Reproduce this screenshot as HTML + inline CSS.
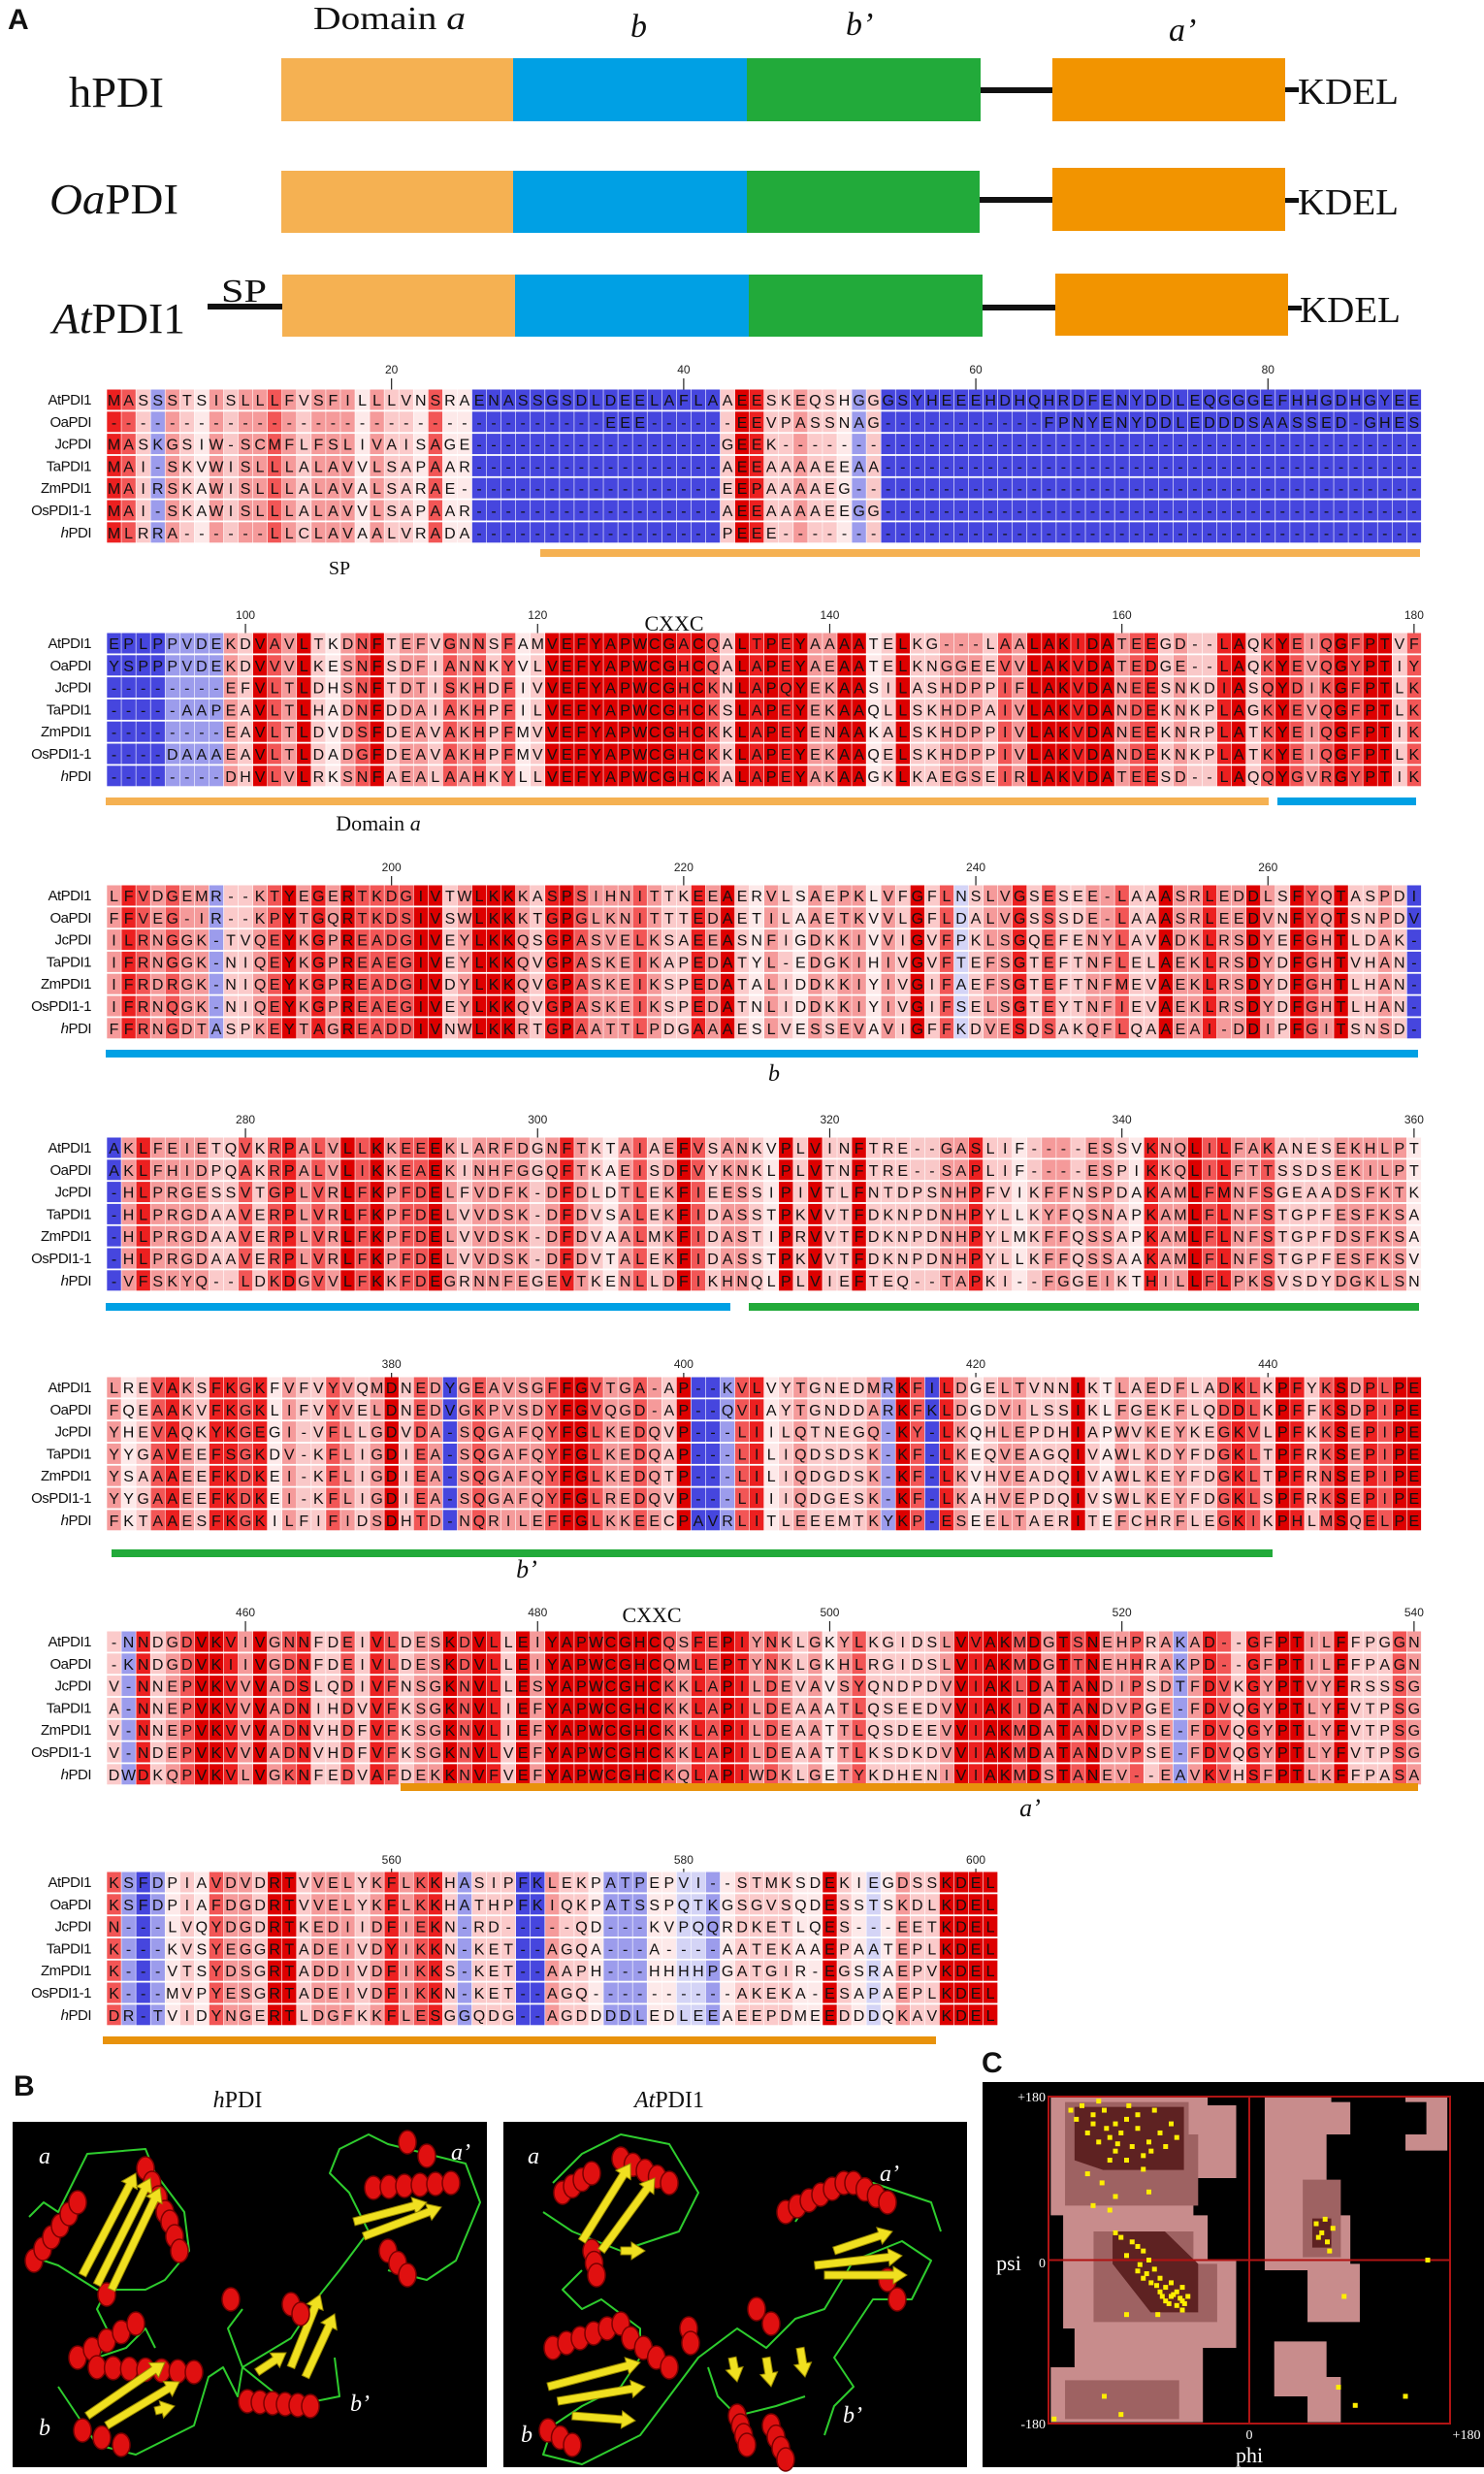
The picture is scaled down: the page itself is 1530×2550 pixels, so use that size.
<!DOCTYPE html>
<html><head><meta charset="utf-8"><style>
html,body{margin:0;padding:0;background:#fff;}
svg{display:block;}
</style></head><body>
<svg id="fig" xmlns="http://www.w3.org/2000/svg" width="1530" height="2550" viewBox="0 0 1530 2550">
<rect width="1530" height="2550" fill="#fff"/>
<g id="panelA" font-family="Liberation Serif, serif" fill="#111">
  <text x="8" y="30" font-family="Liberation Sans, sans-serif" font-weight="bold" font-size="30">A</text>
  <text x="323" y="30" font-size="34" textLength="157" lengthAdjust="spacingAndGlyphs">Domain <tspan font-style="italic">a</tspan></text>
  <text x="650" y="38" font-size="34" font-style="italic">b</text>
  <text x="872" y="36" font-size="34" font-style="italic">b’</text>
  <text x="1205" y="42" font-size="34" font-style="italic">a’</text>
  <text x="71" y="110" font-size="44" textLength="98" lengthAdjust="spacingAndGlyphs">hPDI</text>
  <g>
    <rect x="290" y="60" width="239" height="65" fill="#f5b152"/>
    <rect x="529" y="60" width="241" height="65" fill="#00a0e4"/>
    <rect x="770" y="60" width="241" height="65" fill="#22aa3a"/>
    <rect x="1011" y="90" width="74" height="6" fill="#111"/>
    <rect x="1085" y="60" width="240" height="65" fill="#f29400"/>
    <rect x="1325" y="90" width="14" height="5" fill="#111"/>
  </g>
  <text x="1338" y="107" font-size="38" textLength="104" lengthAdjust="spacingAndGlyphs">KDEL</text>
  <text x="51" y="220" font-size="44" textLength="133" lengthAdjust="spacingAndGlyphs"><tspan font-style="italic">Oa</tspan>PDI</text>
  <g>
    <rect x="290" y="176" width="239" height="64" fill="#f5b152"/>
    <rect x="529" y="176" width="241" height="64" fill="#00a0e4"/>
    <rect x="770" y="176" width="240" height="64" fill="#22aa3a"/>
    <rect x="1010" y="203" width="75" height="6" fill="#111"/>
    <rect x="1085" y="173" width="240" height="65" fill="#f29400"/>
    <rect x="1325" y="204" width="14" height="5" fill="#111"/>
  </g>
  <text x="1338" y="221" font-size="38" textLength="104" lengthAdjust="spacingAndGlyphs">KDEL</text>
  <text x="54" y="343" font-size="44" textLength="137" lengthAdjust="spacingAndGlyphs"><tspan font-style="italic">At</tspan>PDI1</text>
  <text x="228" y="311" font-size="34" textLength="47" lengthAdjust="spacingAndGlyphs">SP</text>
  <g>
    <rect x="214" y="313" width="77" height="6" fill="#111"/>
    <rect x="291" y="283" width="240" height="64" fill="#f5b152"/>
    <rect x="531" y="283" width="241" height="64" fill="#00a0e4"/>
    <rect x="772" y="283" width="241" height="64" fill="#22aa3a"/>
    <rect x="1013" y="314" width="75" height="6" fill="#111"/>
    <rect x="1088" y="282" width="240" height="64" fill="#f29400"/>
    <rect x="1328" y="315" width="14" height="5" fill="#111"/>
  </g>
  <text x="1340" y="332" font-size="38" textLength="104" lengthAdjust="spacingAndGlyphs">KDEL</text>
</g>
<g id="align"></g>
<g id="panelB"></g>
<g id="panelC"></g>
</svg>
<script>
const seqNames = ["AtPDI1","OaPDI","JcPDI","TaPDI1","ZmPDI1","OsPDI1-1","hPDI"];
const blockStarts = [1,91,181,271,361,451,541];
const block1 = [
"MASSSTSISLLLFVSFILLLVNSRAENASSGSDLDEELAFLAAEESKEQSHGGGSYHEEEHDHQHRDFENYDDLEQGGGEFHHGDHGYEE",
"----------------------------------EEE------EEVPASSNAG-----------FPNYENYDDLEDDDSAASSED-GHES",
"MASKGSIW-SCMFLFSLIVAISAGE-----------------GEEK--------------------------------------------",
"MAI-SKVWISLLLALAVVLSAPAAR-----------------AEEAAAAEEAA-------------------------------------",
"MAIRSKAWISLLLALAVALSARAE------------------EEPAAAAEG---------------------------------------",
"MAI-SKAWISLLLALAVVLSAPAAR-----------------AEEAAAAEEGG-------------------------------------",
"MLRRA------LLCLAVAALVRADA-----------------PEEE--------------------------------------------"];
const block2 = [
"EPLPPVDEKDVAVLTKDNFTEFVGNNSFAMVEFYAPWCGACQALTPEYAAAATELKG---LAALAKIDATEEGD--LAQKYEIQGFPTVF",
"YSPPPVDEKDVVVLKESNFSDFIANNKYVLVEFYAPWCGHCQALAPEYAEAATELKNGGEEVVLAKVDATEDGE--LAQKYEVQGYPTIY",
"--------EFVLTLDHSNFTDTISKHDFIVVEFYAPWCGHCKNLAPQYEKAASILASHDPPIFLAKVDANEESNKDIASQYDIKGFPTLK",
"-----AAPEAVLTLHADNFDDAIAKHPFILVEFYAPWCGHCKSLAPEYEKAAQLLSKHDPAIVLAKVDANDEKNKPLAGKYEVQGFPTLK",
"--------EAVLTLDVDSFDEAVAKHPFMVVEFYAPWCGHCKKLAPEYENAAKALSKHDPPIVLAKVDANEEKNRPLATKYEIQGFPTIK",
"----DAAAEAVLTLDADGFDEAVAKHPFMVVEFYAPWCGHCKKLAPEYEKAAQELSKHDPPIVLAKVDANDEKNKPLATKYEIQGFPTLK",
"--------DHVLVLRKSNFAEALAAHKYLLVEFYAPWCGHCKALAPEYAKAAGKLKAEGSEIRLAKVDATEESD--LAQQYGVRGYPTIK"];
const block3 = [
"LFVDGEMR--KTYEGERTKDGIVTWLKKKASPSIHNITTKEEAERVLSAEPKLVFGFLNSLVGSESEE-LAAASRLEDDLSFYQTASPDI",
"FFVEG-IR--KPYTGQRTKDSIVSWLKKKTGPGLKNITTTEDAETILAAETKVVLGFLDALVGSSSDE-LAAASRLEEDVNFYQTSNPDV",
"ILRNGGK-TVQEYKGPREADGIVEYLKKQSGPASVELKSAEEASNFIGDKKIVVIGVFPKLSGQEFENYLAVADKLRSDYEFGHTLDAK-",
"IFRNGGK-NIQEYKGPREAEGIVEYLKKQVGPASKEIKAPEDATYL-EDGKIHIVGVFTEFSGTEFTNFLELAEKLRSDYDFGHTVHAN-",
"IFRDRGK-NIQEYKGPREADGIVDYLKKQVGPASKEIKSPEDATALIDDKKIYIVGIFAEFSGTEFTNFMEVAEKLRSDYDFGHTLHAN-",
"IFRNQGK-NIQEYKGPREAEGIVEYLKKQVGPASKEIKSPEDATNLIDDKKIYIVGIFSELSGTEYTNFIEVAEKLRSDYDFGHTLHAN-",
"FFRNGDTASPKEYTAGREADDIVNWLKKRTGPAATTLPDGAAAESLVESSEVAVIGFFKDVESDSAKQFLQAAEAI-DDIPFGITSNSD-"];
const block4 = [
"AKLFEIETQVKRPALVLLKKEEEKLARFDGNFTKTAIAEFVSANKVPLVINFTRE--GASLIF----ESSVKNQLILFAKANESEKHLPT",
"AKLFHIDPQAKRPALVLIKKEAEKINHFGGQFTKAEISDFVYKNKLPLVTNFTRE--SAPLIF----ESPIKKQLILFTTSSDSEKILPT",
"-HLPRGESSVTGPLVRLFKPFDELFVDFK-DFDLDTLEKFIEESSIPIVTLFNTDPSNHPFVIKFFNSPDAKAMLFMNFSGEAADSFKTK",
"-HLPRGDAAVERPLVRLFKPFDELVVDSK-DFDVSALEKFIDASSTPKVVTFDKNPDNHPYLLKYFQSNAPKAMLFLNFSTGPFESFKSA",
"-HLPRGDAAVERPLVRLFKPFDELVVDSK-DFDVAALMKFIDASTIPRVVTFDKNPDNHPYLMKFFQSSAPKAMLFLNFSTGPFDSFKSA",
"-HLPRGDAAVERPLVRLFKPFDELVVDSK-DFDVTALEKFIDASSTPKVVTFDKNPDNHPYLLKFFQSSAAKAMLFLNFSTGPFESFKSV",
"-VFSKYQ--LDKDGVVLFKKFDEGRNNFEGEVTKENLLDFIKHNQLPLVIEFTEQ--TAPKI--FGGEIKTHILLFLPKSVSDYDGKLSN"];
const block5 = [
"LREVAKSFKGKFVFVYVQMDNEDYGEAVSGFFGVTGA-AP--KVLVYTGNEDMRKFILDGELTVNNIKTLAEDFLADKLKPFYKSDPLPE",
"FQEAAKVFKGKLIFVYVELDNEDVGKPVSDYFGVQGD-AP--QVIAYTGNDDARKFKLDGDVILSSIKLFGEKFLQDDLKPFFKSDPIPE",
"YHEVAQKYKGEGI-VFLLGDVDA-SQGAFQYFGLKEDQVP---LIILQTNEGQ-KY-LKQHLEPDHIAPWVKEYKEGKVLPFKKSEPIPE",
"YYGAVEEFSGKDV-KFLIGDIEA-SQGAFQYFGLKEDQAP---LILIQDSDSK-KF-LKEQVEAGQIVAWLKDYFDGKLTPFRKSEPIPE",
"YSAAAEEFKDKEI-KFLIGDIEA-SQGAFQYFGLKEDQTP---LILIQDGDSK-KF-LKVHVEADQIVAWLKEYFDGKLTPFRNSEPIPE",
"YYGAAEEFKDKEI-KFLIGDIEA-SQGAFQYFGLREDQVP---LIIIQDGESK-KF-LKAHVEPDQIVSWLKEYFDGKLSPFRKSEPIPE",
"FKTAAESFKGKILFIFIDSDHTD-NQRILEFFGLKKEECPAVRLITLEEEMTKYKP-ESEELTAERITEFCHRFLEGKIKPHLMSQELPE"];
const block6 = [
"-NNDGDVKVIVGNNFDEIVLDESKDVLLEIYAPWCGHCQSFEPIYNKLGKYLKGIDSLVVAKMDGTSNEHPRAKAD--GFPTILFFPGGN",
"-KNDGDVKIIVGDNFDEIVLDESKDVLLEIYAPWCGHCQMLEPTYNKLGKHLRGIDSLVIAKMDGTTNEHHRAKPD--GFPTILFFPAGN",
"V-NNEPVKVVVADSLQDIVFNSGKNVLLESYAPWCGHCKKLAPILDEVAVSYQNDPDVVIAKLDATANDIPSDTFDVKGYPTVYFRSSSG",
"A-NNEPVKVVVADNIHDVVFKSGKNVLIEFYAPWCGHCKKLAPILDEAAATLQSEEDVVIAKIDATANDVPGE-FDVQGYPTLYFVTPSG",
"V-NNEPVKVVVADNVHDFVFKSGKNVLIEFYAPWCGHCKKLAPILDEAATTLQSDEEVVIAKMDATANDVPSE-FDVQGYPTLYFVTPSG",
"V-NDEPVKVVVADNVHDFVFKSGKNVLVEFYAPWCGHCKKLAPILDEAATTLKSDKDVVIAKMDATANDVPSE-FDVQGYPTLYFVTPSG",
"DWDKQPVKVLVGKNFEDVAFDEKKNVFVEFYAPWCGHCKQLAPIWDKLGETYKDHENIVIAKMDSTANEV--EAVKVHSFPTLKFFPASA"];
const block7 = [
"KSFDPIAVDVDRTVVELYKFLKKHASIPFKLEKPATPEPVI--STMKSDEKIEGDSSKDEL",
"KSFDPIAFDGDRTVVELYKFLKKHATHPFKIQKPATSSPQTKGSGVSQDESSTSKDLKDEL",
"N---LVQYDGDRTKEDIIDFIEKN-RD-----QD---KVPQQRDKETLQES---EETKDEL",
"K---KVSYEGGRTADEIVDYIKKN-KET--AGQA---A----AATEKAAEPAATEPLKDEL",
"K---VTSYDSGRTADDIVDFIKKS-KET--AAPH---HHHHPGATGIR-EGSRAEPVKDEL",
"K---MVPYESGRTADEIVDFIKKN-KET--AGQ----------AKEKA-ESAPAEPLKDEL",
"DR-TVIDYNGERTLDGFKKFLESGGQDG--AGDDDDLEDLEEAEEPDMEEDDDQKAVKDEL"];
const blocks = [block1,block2,block3,block4,block5,block6,block7];
const rulerTicks = [20,40,60,80,100,120,140,160,180,200,220,240,260,280,300,320,340,360,380,400,420,440,460,480,500,520,540,560,580,600];

const ramaPhi = [-150,-140,-130,-120,-110,-145,-135,-125,-115,-100,-90,-105,-95,-120,-80,-70,-140,-155,-128,-118,-88,-75,-65,-100,-85,-135,-160,-110,-95,-125,
 -70,-65,-60,-75,-80,-85,-90,-95,-100,-105,-70,-60,-55,-65,-75,-80,-88,-92,-98,-110,-115,-62,-68,-72,-58,-78,-83,-100,-120,-95,
 -140,-120,-125,-110,-130,-115,-175,60,65,70,62,75,72,68,85,80,95,140,160,-90,-145,-132,-108,-60,-82];
const ramaPsi = [170,160,165,150,155,140,130,135,140,145,130,125,115,120,140,150,150,155,145,128,120,125,135,160,165,175,165,110,100,110,
 -40,-35,-45,-30,-20,-10,0,10,15,20,-25,-30,-40,-50,-45,-35,-25,-15,-5,5,25,-42,-38,-48,-48,-40,-28,-12,30,-20,
 60,70,55,-60,-150,-170,-175,40,30,20,25,35,10,45,-40,-140,-160,-150,0,75,95,85,170,-55,-60];

const NS="http://www.w3.org/2000/svg";
function mk(tag, attrs, parent){const e=document.createElementNS(NS,tag);for(const k in attrs)e.setAttribute(k,attrs[k]);parent.appendChild(e);return e;}

const align=document.getElementById('align');
const rowY0=[412,663,923,1183,1430,1692,1940];
const numY=[381,634,894,1154,1406,1662,1917];
const X0=110, CW=15.06, RP=22.8, CH=21;
function colColor(chars){
  let gaps=0;const cnt={};let m=0;
  for(const c of chars){if(c==='-'){gaps++;continue;}cnt[c]=(cnt[c]||0)+1;if(cnt[c]>m)m=cnt[c];}
  if(gaps>=5) return '#4646de';
  if(gaps>=3) return m>=3?'#f9c8c8':'#9c9cec';
  if(m===7) return '#dd0000';
  if(m===6) return '#ec2020';
  if(m===5) return '#f25656';
  if(m===4) return '#f59a9a';
  if(m===3) return '#fbcaca';
  if(m===2) return '#fde9e9';
  return '#d4d4f6';
}
function colX(c){return X0+c*CW;}
blocks.forEach((blk,b)=>{
  const g=mk('g',{},align);
  
  
  const start=blockStarts[b];
  const len=blk[0].length;
  rulerTicks.filter(t=>t>=start&&t<start+len).forEach(t=>{
    const cx=colX(t-start)+CW/2;
    const tx=mk('text',{x:cx,y:numY[b]+4,'font-size':12,'text-anchor':'middle','font-family':'Liberation Sans, sans-serif',fill:'#222'},g);
    tx.textContent=t;
    
    
    const tl=mk('line',{x1:cx,x2:cx,y1:numY[b]+9,y2:numY[b]+21,stroke:'#222','stroke-width':1.2},g);
    
    
  });
  for(let c=0;c<len;c++){
    const chars=blk.map(s=>s[c]||'-');
    const col=colColor(chars);
    chars.forEach((ch,r)=>{
      const y=rowY0[b]+r*RP;
      const rc=mk('rect',{x:colX(c)+0.3,y:y-CH/2,width:CW-0.6,height:CH,fill:col},g);
      
      
    });
  }
  blk.forEach((s,r)=>{
    const y=rowY0[b]+r*RP;
    const lab=mk('text',{x:94,y:y+5,'font-size':15,'text-anchor':'end','font-family':'Liberation Sans, sans-serif',fill:'#111','letter-spacing':'-0.5'},g);
    if(seqNames[r]==='hPDI'){lab.innerHTML='<tspan font-style="italic">h</tspan>PDI';}else lab.textContent=seqNames[r];
    
    
    for(let c=0;c<s.length;c++){
      const ch=s[c];
      const t=mk('text',{x:colX(c)+CW/2,y:y+6,'font-size':16,'text-anchor':'middle','font-family':'Liberation Sans, sans-serif',fill:'#111'},g);
      t.textContent=ch;
    }
  });
});
const bars=[
 [557,570,1464,'#f5b152','domain-a-bar-1'],
 [109,826,1308,'#f5b152','domain-a-bar-2'],[1317,826,1460,'#00a0e4','domain-b-bar-1'],
 [109,1086,1462,'#00a0e4','domain-b-bar-2'],
 [109,1347,753,'#00a0e4','domain-b-bar-3'],[772,1347,1463,'#22aa3a','domain-b-prime-bar-1'],
 [115,1601,1312,'#22aa3a','domain-b-prime-bar-2'],
 [413,1842,1462,'#e8920c','domain-a-prime-bar-1'],
 [106,2103,965,'#e8920c','domain-a-prime-bar-2']];
bars.forEach(bb=>{
  const r=mk('rect',{x:bb[0],y:bb[1]-4,width:bb[2]-bb[0],height:8,fill:bb[3]},align);
  
  
});
const notes=[
 [350,592,'SP',20,false,'sp-annotation'],
 [695,650,'CXXC',22,false,'cxxc-annotation-1'],
 [672,1672,'CXXC',22,false,'cxxc-annotation-2'],
 [390,856,'Domain a',22,false,'domain-a-annotation'],
 [798,1114,'b',24,true,'domain-b-annotation'],
 [543,1626,'b’',26,true,'domain-b-prime-annotation'],
 [1062,1872,'a’',26,true,'domain-a-prime-annotation']];
notes.forEach(n=>{
  const t=mk('text',{x:n[0],y:n[1],'font-size':n[3],'text-anchor':'middle','font-family':'Liberation Serif, serif',fill:'#111'},align);
  if(n[2]==='Domain a'){t.innerHTML='Domain <tspan font-style="italic">a</tspan>';}else t.textContent=n[2];
  if(n[4]) t.setAttribute('font-style','italic');
  
  
});

const pb=document.getElementById('panelB');
function lbl(x,y,txt,size,style,weight,fill,name,parent,anchor){
  const t=mk('text',{x:x,y:y,'font-size':size,'font-family':style==='sans'?'Liberation Sans, sans-serif':'Liberation Serif, serif',fill:fill,'text-anchor':anchor||'start'},parent);
  if(weight) t.setAttribute('font-weight',weight);
  t.innerHTML=txt;
  
  
  return t;
}
lbl(14,2160,'B',30,'sans','bold','#111','panel-b-label',pb);
lbl(245,2172,'<tspan font-style="italic">h</tspan>PDI',24,'serif',null,'#111','hpdi-structure-title',pb,'middle');
lbl(690,2172,'<tspan font-style="italic">At</tspan>PDI1',24,'serif',null,'#111','atpdi1-structure-title',pb,'middle');
function helix(g,x1,y1,x2,y2,n){
  for(let i=0;i<n;i++){const t=n===1?0:i/(n-1);
    mk('ellipse',{cx:x1+(x2-x1)*t,cy:y1+(y2-y1)*t,rx:9,ry:12,fill:'#e01010',stroke:'#7a0000','stroke-width':1.5},g);}
}
function strand(g,x1,y1,x2,y2){
  const dx=x2-x1,dy=y2-y1,L=Math.hypot(dx,dy),ux=dx/L,uy=dy/L,px=-uy,py=ux,w=4,hw=9,hl=14;
  const bx=x2-ux*hl,by=y2-uy*hl;
  const pts=[[x1+px*w,y1+py*w],[bx+px*w,by+py*w],[bx+px*hw,by+py*hw],[x2,y2],[bx-px*hw,by-py*hw],[bx-px*w,by-py*w],[x1-px*w,y1-py*w]];
  mk('polygon',{points:pts.map(p=>p.join(',')).join(' '),fill:'#f0e020',stroke:'#9a8a00','stroke-width':1},g);
}
function loop(g,pts){mk('polyline',{points:pts.map(p=>p.join(',')).join(' '),fill:'none',stroke:'#2ecc2e','stroke-width':2,'stroke-linejoin':'round'},g);}
function panel(x0,name,mods){
  const g=mk('g',{},pb);
  
  
  mk('rect',{x:x0,y:2187,width:mods.w,height:356,fill:'#000'},g);
  mods.draw(g,x0);
  mods.labels.forEach(l=>lbl(x0+l[0],l[1],l[2],24,'serif',null,'#fff','domain-label-'+l[3],g));
}
panel(13,'hpdi-structure-panel',{w:489,labels:[[27,2230,'<tspan font-style="italic">a</tspan>','a'],[452,2226,'<tspan font-style="italic">a’</tspan>','a-prime'],[27,2510,'<tspan font-style="italic">b</tspan>','b'],[348,2485,'<tspan font-style="italic">b’</tspan>','b-prime']],
 draw:(g,x)=>{
  loop(g,[[30,2285],[45,2270],[60,2280],[90,2220],[150,2215],[160,2240],[190,2280],[195,2320],[170,2350],[150,2360],[100,2360],[60,2335],[45,2330]]);
  loop(g,[[110,2360],[100,2380],[115,2410],[100,2430],[130,2420],[150,2400],[160,2420]]);
  loop(g,[[60,2460],[80,2490],[100,2520],[140,2530],[200,2500],[215,2450],[230,2440],[245,2470],[250,2440],[300,2410],[330,2365],[350,2340],[365,2320],[380,2300],[360,2260],[340,2240],[350,2215],[380,2200],[400,2210],[480,2230],[495,2270],[470,2330],[440,2350],[400,2340]]);
  loop(g,[[250,2380],[235,2400],[250,2440],[300,2480],[350,2470],[345,2430]]);
  helix(g,35,2330,80,2270,6);helix(g,150,2235,170,2280,4);helix(g,175,2290,185,2320,3);helix(g,110,2365,112,2372,1);
  strand(g,85,2345,140,2240);strand(g,100,2355,155,2245);strand(g,115,2360,165,2255);
  helix(g,420,2208,440,2222,2);helix(g,385,2255,465,2250,6);helix(g,400,2320,420,2345,3);
  strand(g,365,2290,440,2270);strand(g,375,2305,455,2275);
  helix(g,80,2430,140,2395,5);helix(g,100,2440,200,2445,7);helix(g,85,2505,125,2520,3);
  strand(g,90,2490,170,2435);strand(g,110,2500,185,2455);strand(g,160,2485,180,2480);
  strand(g,300,2440,330,2365);strand(g,315,2450,345,2385);strand(g,265,2445,295,2425);
  helix(g,255,2475,320,2480,6);helix(g,300,2375,310,2385,2);helix(g,238,2370,240,2375,1);
 }});
panel(519,'atpdi1-structure-panel',{w:478,labels:[[25,2230,'<tspan font-style="italic">a</tspan>','a'],[388,2248,'<tspan font-style="italic">a’</tspan>','a-prime'],[18,2517,'<tspan font-style="italic">b</tspan>','b'],[350,2497,'<tspan font-style="italic">b’</tspan>','b-prime']],
 draw:(g,x)=>{
  loop(g,[[570,2250],[600,2220],[640,2200],[690,2210],[720,2260],[700,2300],[640,2320],[590,2300],[560,2280]]);
  loop(g,[[600,2340],[580,2360],[600,2380],[620,2370],[660,2400],[660,2430],[640,2460],[600,2480],[570,2500],[560,2530],[600,2540],[660,2510],[690,2470],[720,2430],[760,2400],[790,2420],[820,2390],[850,2380],[880,2330],[930,2310],[960,2330],[940,2370],[900,2370],[880,2400],[860,2430],[880,2460],[860,2480],[850,2510]]);
  loop(g,[[820,2290],[840,2260],[900,2250],[960,2270],[970,2300]]);
  loop(g,[[730,2440],[740,2470],[760,2490],[800,2480],[830,2470]]);
  helix(g,580,2260,610,2240,4);helix(g,640,2225,690,2250,5);helix(g,610,2320,615,2345,3);
  strand(g,600,2310,650,2230);strand(g,620,2320,675,2245);strand(g,640,2320,665,2320);
  helix(g,810,2280,870,2250,6);helix(g,880,2250,915,2270,4);helix(g,915,2350,925,2370,2);
  strand(g,840,2335,930,2325);strand(g,850,2345,935,2345);strand(g,860,2320,920,2300);
  helix(g,570,2420,640,2395,6);helix(g,650,2410,690,2440,4);helix(g,565,2505,590,2520,3);
  strand(g,565,2460,660,2435);strand(g,575,2475,665,2460);strand(g,590,2490,655,2495);
  helix(g,710,2400,712,2415,2);helix(g,780,2380,795,2395,2);
  strand(g,755,2430,760,2455);strand(g,790,2430,795,2460);strand(g,825,2420,830,2450);
  helix(g,760,2490,770,2520,4);helix(g,795,2500,810,2535,4);
 }});

const pc=document.getElementById('panelC');
lbl(1012,2136,'C',30,'sans','bold','#111','panel-c-label',pc);
mk('rect',{x:1013,y:2146,width:517,height:397,fill:'#000'},pc);
const PX0=1081,PX1=1495,PY0=2161,PY1=2498;
function sx(phi){return PX0+(phi+180)/360*(PX1-PX0);}
function sy(psi){return PY0+(180-psi)/360*(PY1-PY0);}
const reg=mk('g',{transform:'translate(0,2100) scale(0.9804,0.33333)'},pc);


function poly(p,fill){mk('polygon',{points:p,fill:fill},reg);}
poly('1105,185 1270,185 1270,210 1300,210 1300,435 1255,435 1255,550 1270,550 1270,690 1300,690 1300,960 1265,960 1265,1190 1105,1190 1105,1020 1130,1020 1130,900 1118,900 1118,550 1105,550','#c88c8c');
poly('1330,185 1400,185 1400,200 1420,200 1420,300 1395,300 1395,550 1420,550 1420,700 1430,700 1430,880 1375,880 1375,720 1330,720','#c88c8c');
poly('1478,185 1522,185 1522,350 1478,350 1478,300 1500,300 1500,200 1478,200','#c88c8c');
poly('1340,940 1395,940 1395,1050 1410,1050 1410,1190 1375,1190 1375,1110 1340,1110','#c88c8c');
poly('1120,200 1250,200 1250,300 1260,300 1260,520 1120,520','#9e6262');
poly('1150,600 1255,600 1255,700 1280,700 1280,880 1150,880','#9e6262');
poly('1120,1060 1240,1060 1240,1180 1120,1180','#9e6262');
poly('1370,440 1410,440 1410,680 1370,680','#9e6262');
poly('1130,215 1245,215 1245,410 1160,410 1130,380','#5e2222');
poly('1170,600 1225,600 1260,700 1260,850 1210,850 1170,700','#5e2222');
poly('1380,560 1400,560 1400,650 1380,650','#5e2222');
const fr=mk('g',{},pc);


mk('rect',{x:PX0,y:PY0,width:PX1-PX0,height:PY1-PY0,fill:'none',stroke:'#b01414','stroke-width':2},fr);
mk('line',{x1:sx(0),x2:sx(0),y1:PY0,y2:PY1,stroke:'#b01414','stroke-width':2},fr);
mk('line',{x1:PX0,x2:PX1,y1:sy(0),y2:sy(0),stroke:'#b01414','stroke-width':2},fr);
const pts=mk('g',{},pc);


ramaPhi.forEach((phi,i)=>{
  const p=mk('rect',{x:sx(phi)-2.5,y:sy(ramaPsi[i])-2.5,width:5,height:5,fill:'#ffee00'},pts);
  
  
});
lbl(1078,2166,'+180',14,'serif',null,'#fff','psi-max-tick',pc,'end');
lbl(1078,2337,'0',14,'serif',null,'#fff','psi-zero-tick',pc,'end');
lbl(1078,2503,'-180',14,'serif',null,'#fff','psi-min-tick',pc,'end');
lbl(1040,2340,'psi',22,'serif',null,'#fff','psi-axis-title',pc,'middle');
lbl(sx(0),2514,'0',14,'serif',null,'#fff','phi-zero-tick',pc,'middle');
lbl(1512,2514,'+180',14,'serif',null,'#fff','phi-max-tick',pc,'middle');
lbl(sx(0),2538,'phi',22,'serif',null,'#fff','phi-axis-title',pc,'middle');
</script>
</body></html>
